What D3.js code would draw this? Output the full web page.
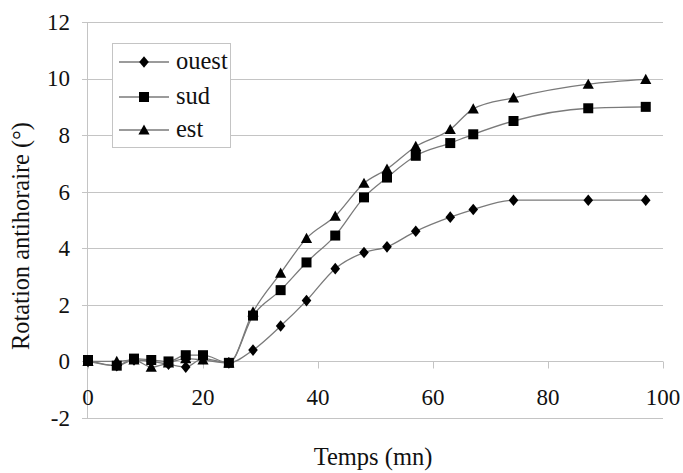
<!DOCTYPE html>
<html>
<head>
<meta charset="utf-8">
<script src="https://cdn.jsdelivr.net/npm/d3@7"></script>
<style>
  html, body { margin: 0; padding: 0; background: #fff; }
</style>
</head>
<body>
<svg id="chart" width="683" height="473"></svg>
<script>
const times = [0, 5, 8, 11, 14, 17, 20, 24.5, 28.7, 33.5, 38, 43, 48, 52, 57, 63, 67, 74, 87, 97];
const ouest = [0, -0.15, 0.05, 0, -0.1, -0.2, 0.1, -0.05, 0.4, 1.25, 2.15, 3.28, 3.85, 4.05, 4.6, 5.1, 5.37, 5.7, 5.7, 5.7];
const sud   = [0.05, -0.15, 0.1, 0.05, 0, 0.22, 0.22, -0.05, 1.62, 2.52, 3.5, 4.45, 5.8, 6.5, 7.27, 7.72, 8.03, 8.5, 8.95, 9.0];
const est   = [0, 0, 0.05, -0.2, -0.05, 0.1, 0.05, -0.05, 1.75, 3.12, 4.35, 5.14, 6.3, 6.8, 7.6, 8.2, 8.93, 9.32, 9.8, 9.97];
const seriesNames = ["ouest", "sud", "est"];
const seriesShapes = ["diamond", "square", "triangle"];
const xTicks = [0, 20, 40, 60, 80, 100];
const yTicks = [-2, 0, 2, 4, 6, 8, 10, 12];
const xTitle = "Temps (mn)";
const yTitle = "Rotation antihoraire (°)";

const FONT = "'Liberation Serif', 'Times New Roman', serif";
const svg = d3.select("#chart");
const L = 88, R = 663, T = 22, B = 418;
const x = d3.scaleLinear().domain([0, 100]).range([L, R]);
const y = d3.scaleLinear().domain([-2, 12]).range([B, T]);
const gridColor = "#c4c4c4";

svg.append("g").selectAll("line").data(yTicks).join("line")
  .attr("x1", L - 6).attr("x2", R)
  .attr("y1", d => Math.round(y(d)) + 0.5).attr("y2", d => Math.round(y(d)) + 0.5)
  .attr("stroke", gridColor).attr("stroke-width", 1);

svg.append("line").attr("x1", L - 0.5).attr("x2", L - 0.5).attr("y1", T).attr("y2", B)
  .attr("stroke", gridColor);

const xAxis = d3.axisBottom(x).tickValues(xTicks).tickSize(7).tickFormat("");
const gx = svg.append("g").attr("transform", `translate(0,${Math.round(y(0)) + 0.5})`).call(xAxis);
gx.select(".domain").attr("stroke", gridColor).attr("d", `M${L},0H${R}`);
gx.selectAll(".tick line").attr("stroke", gridColor);

svg.append("g").selectAll("text").data(xTicks).join("text")
  .attr("x", d => x(d)).attr("y", 405)
  .attr("text-anchor", "middle").attr("font-family", FONT).attr("font-size", 23).attr("fill", "#111")
  .text(d => d);

svg.append("g").selectAll("text").data(yTicks).join("text")
  .attr("x", 70).attr("y", d => y(d)).attr("dy", "0.34em")
  .attr("text-anchor", "end").attr("font-family", FONT).attr("font-size", 23).attr("fill", "#111")
  .text(d => d);

svg.append("text").attr("x", 373).attr("y", 465)
  .attr("text-anchor", "middle").attr("font-family", FONT).attr("font-size", 24.5).attr("fill", "#111").text(xTitle);
svg.append("text").attr("transform", "translate(29,236) rotate(-90)")
  .attr("text-anchor", "middle").attr("font-family", FONT).attr("font-size", 24.5).attr("fill", "#111")
  .attr("textLength", 228).attr("lengthAdjust", "spacingAndGlyphs").text(yTitle);

function shapePath(s) {
  if (s === "diamond") return "M0,-5.8L4.8,0L0,5.8L-4.8,0Z";
  if (s === "square") return "M-5,-5H5V5H-5Z";
  return "M0,-5.6L5.6,4.6H-5.6Z";
}

const allSeries = [ouest, sud, est];
const line = d3.line().x((d, i) => x(times[i])).y(d => y(d)).curve(d3.curveMonotoneX);

allSeries.forEach((vals) => {
  svg.append("path").attr("d", line(vals)).attr("fill", "none")
    .attr("stroke", "#7a7a7a").attr("stroke-width", 1.3);
});
allSeries.forEach((vals, k) => {
  svg.append("g").selectAll("path").data(vals).join("path")
    .attr("transform", (d, i) => `translate(${x(times[i])},${y(d)})`)
    .attr("d", shapePath(seriesShapes[k])).attr("fill", "#000");
});

const lg = svg.append("g");
lg.append("rect").attr("x", 112.5).attr("y", 43.5).attr("width", 118).attr("height", 104)
  .attr("fill", "#fff").attr("stroke", gridColor);
const rowsY = [62, 97, 130];
seriesNames.forEach((n, k) => {
  lg.append("line").attr("x1", 119).attr("x2", 169).attr("y1", rowsY[k]).attr("y2", rowsY[k])
    .attr("stroke", "#7a7a7a").attr("stroke-width", 1.3);
  lg.append("path").attr("transform", `translate(144,${rowsY[k]})`).attr("d", shapePath(seriesShapes[k])).attr("fill", "#000");
  lg.append("text").attr("x", 176).attr("y", rowsY[k]).attr("dy", "0.3em")
    .attr("font-family", FONT).attr("font-size", 24.5).attr("fill", "#111").text(n);
});
</script>
</body>
</html>
